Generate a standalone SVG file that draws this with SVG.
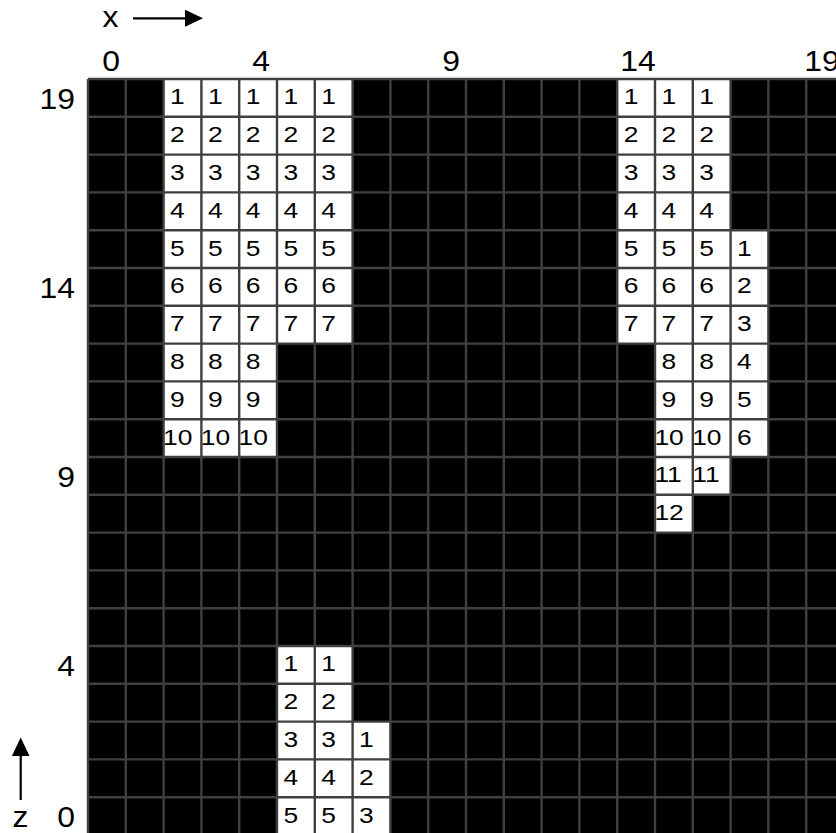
<svg xmlns="http://www.w3.org/2000/svg" width="836" height="833" viewBox="0 0 836 833">
<style>
.bg{fill:#ffffff}
.blk{fill:#000000}
.w{fill:#ffffff}
.grid{fill:none;stroke:#404040;stroke-width:2.4}
.n{font-family:"Liberation Sans",Arial,sans-serif;font-size:22px;fill:#000}
.ax{font-family:"Liberation Sans",Arial,sans-serif;font-size:29px;fill:#000}
.ar{stroke:#000;stroke-width:2.2;fill:none}
</style>
<rect class="bg" x="0" y="0" width="836" height="833"/>
<g id="board">
<rect class="blk" x="88" y="79" width="756" height="756"/>
<g id="region-a">
<rect class="w" x="163.6" y="79" width="113.4" height="378"/>
<rect class="w" x="277" y="79" width="75.6" height="264.6"/>
</g>
<g id="region-b">
<rect class="w" x="617.2" y="79" width="37.8" height="264.6"/>
<rect class="w" x="655" y="79" width="37.8" height="453.6"/>
<rect class="w" x="692.8" y="79" width="37.8" height="415.8"/>
<rect class="w" x="730.6" y="230.2" width="37.8" height="226.8"/>
</g>
<g id="region-c">
<rect class="w" x="277" y="646" width="75.6" height="189"/>
<rect class="w" x="352.6" y="721.6" width="37.8" height="113.4"/>
</g>
<path id="gridlines" class="grid" d="M88 79V835M125.8 79V835M163.6 79V835M201.4 79V835M239.2 79V835M277 79V835M314.8 79V835M352.6 79V835M390.4 79V835M428.2 79V835M466 79V835M503.8 79V835M541.6 79V835M579.4 79V835M617.2 79V835M655 79V835M692.8 79V835M730.6 79V835M768.4 79V835M806.2 79V835M844 79V835M88 79H844M88 116.8H844M88 154.6H844M88 192.4H844M88 230.2H844M88 268H844M88 305.8H844M88 343.6H844M88 381.4H844M88 419.2H844M88 457H844M88 494.8H844M88 532.6H844M88 570.4H844M88 608.2H844M88 646H844M88 683.8H844M88 721.6H844M88 759.4H844M88 797.2H844M88 835H844"/>
</g>
<g id="numbers" transform="scale(1.2 1)">
<g id="numbers-a">
<text class="n" x="141.75" y="104.5">1</text><text class="n" x="173.25" y="104.5">1</text><text class="n" x="204.75" y="104.5">1</text><text class="n" x="236.25" y="104.5">1</text><text class="n" x="267.75" y="104.5">1</text>
<text class="n" x="141.75" y="142.3">2</text><text class="n" x="173.25" y="142.3">2</text><text class="n" x="204.75" y="142.3">2</text><text class="n" x="236.25" y="142.3">2</text><text class="n" x="267.75" y="142.3">2</text>
<text class="n" x="141.75" y="180.1">3</text><text class="n" x="173.25" y="180.1">3</text><text class="n" x="204.75" y="180.1">3</text><text class="n" x="236.25" y="180.1">3</text><text class="n" x="267.75" y="180.1">3</text>
<text class="n" x="141.75" y="217.9">4</text><text class="n" x="173.25" y="217.9">4</text><text class="n" x="204.75" y="217.9">4</text><text class="n" x="236.25" y="217.9">4</text><text class="n" x="267.75" y="217.9">4</text>
<text class="n" x="141.75" y="255.7">5</text><text class="n" x="173.25" y="255.7">5</text><text class="n" x="204.75" y="255.7">5</text><text class="n" x="236.25" y="255.7">5</text><text class="n" x="267.75" y="255.7">5</text>
<text class="n" x="141.75" y="293.5">6</text><text class="n" x="173.25" y="293.5">6</text><text class="n" x="204.75" y="293.5">6</text><text class="n" x="236.25" y="293.5">6</text><text class="n" x="267.75" y="293.5">6</text>
<text class="n" x="141.75" y="331.3">7</text><text class="n" x="173.25" y="331.3">7</text><text class="n" x="204.75" y="331.3">7</text><text class="n" x="236.25" y="331.3">7</text><text class="n" x="267.75" y="331.3">7</text>
<text class="n" x="141.75" y="369.1">8</text><text class="n" x="173.25" y="369.1">8</text><text class="n" x="204.75" y="369.1">8</text>
<text class="n" x="141.75" y="406.9">9</text><text class="n" x="173.25" y="406.9">9</text><text class="n" x="204.75" y="406.9">9</text>
<text class="n" x="135.83" y="444.7">10</text><text class="n" x="167.33" y="444.7">10</text><text class="n" x="198.83" y="444.7">10</text>
</g>
<g id="numbers-b">
<text class="n" x="519.75" y="104.5">1</text><text class="n" x="551.25" y="104.5">1</text><text class="n" x="582.75" y="104.5">1</text>
<text class="n" x="519.75" y="142.3">2</text><text class="n" x="551.25" y="142.3">2</text><text class="n" x="582.75" y="142.3">2</text>
<text class="n" x="519.75" y="180.1">3</text><text class="n" x="551.25" y="180.1">3</text><text class="n" x="582.75" y="180.1">3</text>
<text class="n" x="519.75" y="217.9">4</text><text class="n" x="551.25" y="217.9">4</text><text class="n" x="582.75" y="217.9">4</text>
<text class="n" x="519.75" y="255.7">5</text><text class="n" x="551.25" y="255.7">5</text><text class="n" x="582.75" y="255.7">5</text><text class="n" x="614.25" y="255.7">1</text>
<text class="n" x="519.75" y="293.5">6</text><text class="n" x="551.25" y="293.5">6</text><text class="n" x="582.75" y="293.5">6</text><text class="n" x="614.25" y="293.5">2</text>
<text class="n" x="519.75" y="331.3">7</text><text class="n" x="551.25" y="331.3">7</text><text class="n" x="582.75" y="331.3">7</text><text class="n" x="614.25" y="331.3">3</text>
<text class="n" x="551.25" y="369.1">8</text><text class="n" x="582.75" y="369.1">8</text><text class="n" x="614.25" y="369.1">4</text>
<text class="n" x="551.25" y="406.9">9</text><text class="n" x="582.75" y="406.9">9</text><text class="n" x="614.25" y="406.9">5</text>
<text class="n" x="545.33" y="444.7">10</text><text class="n" x="576.83" y="444.7">10</text><text class="n" x="614.25" y="444.7">6</text>
<text class="n" x="545.33" y="482.5">11</text><text class="n" x="576.83" y="482.5">11</text>
<text class="n" x="545.33" y="520.3">12</text>
</g>
<g id="numbers-c">
<text class="n" x="236.25" y="671.5">1</text><text class="n" x="267.75" y="671.5">1</text>
<text class="n" x="236.25" y="709.3">2</text><text class="n" x="267.75" y="709.3">2</text>
<text class="n" x="236.25" y="747.1">3</text><text class="n" x="267.75" y="747.1">3</text><text class="n" x="299.25" y="747.1">1</text>
<text class="n" x="236.25" y="784.9">4</text><text class="n" x="267.75" y="784.9">4</text><text class="n" x="299.25" y="784.9">2</text>
<text class="n" x="236.25" y="822.7">5</text><text class="n" x="267.75" y="822.7">5</text><text class="n" x="299.25" y="822.7">3</text>
</g>
</g>
<g id="x-ticks">
<text class="ax" text-anchor="middle" transform="translate(111 71) scale(1.1 1)">0</text>
<text class="ax" text-anchor="middle" transform="translate(261 71) scale(1.1 1)">4</text>
<text class="ax" text-anchor="middle" transform="translate(451 71) scale(1.1 1)">9</text>
<text class="ax" text-anchor="middle" transform="translate(638 71) scale(1.1 1)">14</text>
<text class="ax" text-anchor="middle" transform="translate(822 71) scale(1.1 1)">19</text>
</g>
<g id="z-ticks">
<text class="ax" text-anchor="end" transform="translate(75 109.2) scale(1.1 1)">19</text>
<text class="ax" text-anchor="end" transform="translate(75 298.2) scale(1.1 1)">14</text>
<text class="ax" text-anchor="end" transform="translate(75 487.2) scale(1.1 1)">9</text>
<text class="ax" text-anchor="end" transform="translate(75 676.2) scale(1.1 1)">4</text>
<text class="ax" text-anchor="end" transform="translate(75 827.3) scale(1.1 1)">0</text>
</g>
<g id="axes">
<text class="ax" transform="translate(102.5 27) scale(1.1 1)">x</text>
<line class="ar" x1="133" y1="18.3" x2="187" y2="18.3"/>
<polygon points="203,18.3 185,9.8 185,26.8" fill="#000"/>
<text class="ax" text-anchor="middle" transform="translate(20.5 827.3) scale(1.1 1)">z</text>
<line class="ar" x1="20.7" y1="800" x2="20.7" y2="754"/>
<polygon points="20.7,737.5 11.9,756 29.5,756" fill="#000"/>
</g>
</svg>
